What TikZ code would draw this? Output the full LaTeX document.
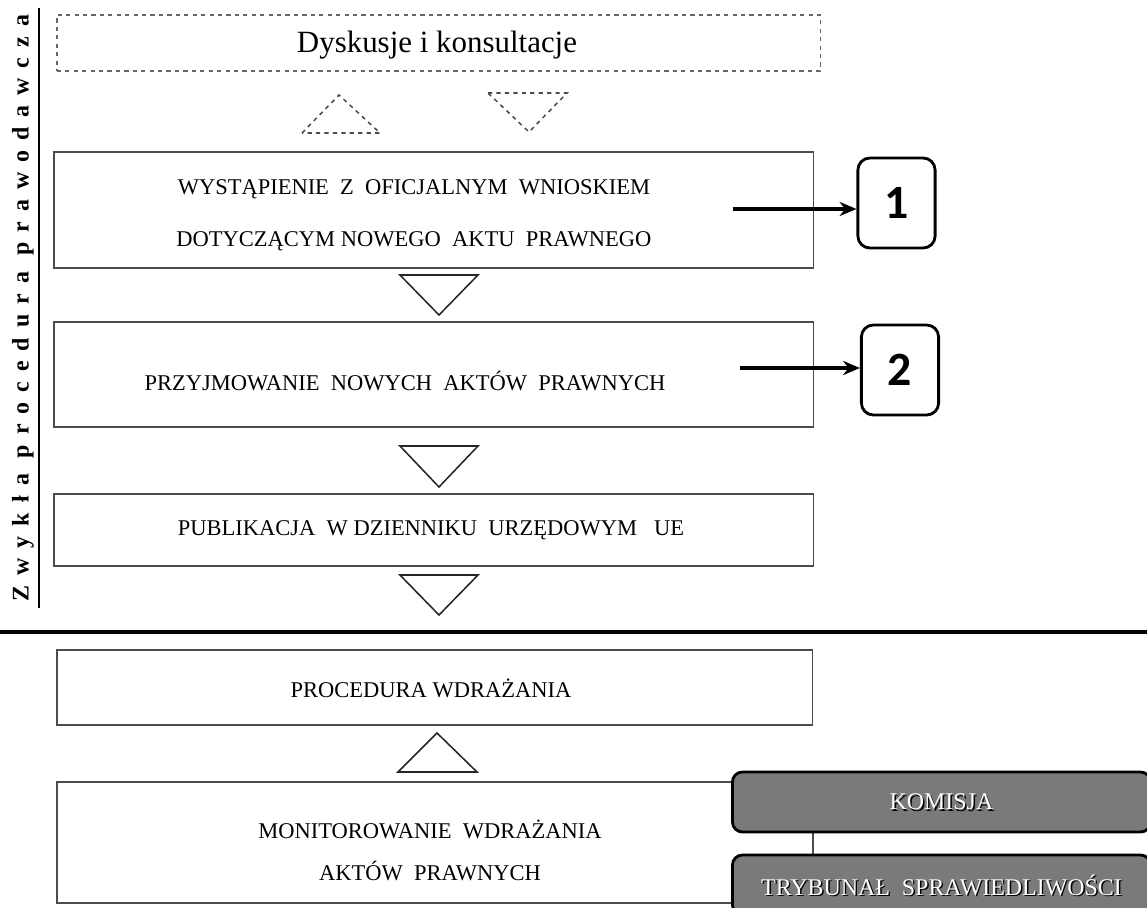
\documentclass[tikz,border=0pt]{standalone}
\usepackage{fontspec}
\setmainfont{Liberation Serif}
\newfontfamily\titlefont[LetterSpace=42]{Liberation Serif}
\newfontfamily\numfont{Carlito}
\usetikzlibrary{positioning, calc, arrows.meta}

\begin{document}
\begin{tikzpicture}[
    x=0.025cm, y=-0.025cm,
    box/.style={draw=black!70, line width=1pt, inner sep=0pt},
    dashbox/.style={draw=black!60, dashed, line width=1pt, inner sep=0pt},
    boxtext/.style={font=\fontsize{16}{37}\selectfont, align=center},
    tri/.style={draw=black!85, line width=1.1pt, line join=miter},
    numbox/.style={draw=black, line width=2pt, rounded corners=0.3cm, minimum width=1.93cm, minimum height=2.25cm, font=\numfont\bfseries\fontsize{34}{36}\selectfont},
    organ/.style={draw=black, line width=2pt, fill=black!52, rounded corners=0.25cm, minimum width=10.45cm, minimum height=1.5cm},
    organtext/.style={font=\fontsize{17}{20}\selectfont},
    pointer/.style={line width=2.5pt, -{Stealth[length=12pt, width=10pt]}}
]
   \clip (0,0) rectangle (1147,908);

   % side title
   \node[rotate=90, inner sep=0pt, font=\titlefont\bfseries\fontsize{17}{20}\selectfont] (title) at (23,308) {Zwykła procedura prawodawcza};
   \draw[line width=1.5pt, shorten <=-0.15cm, shorten >=-0.15cm] ([xshift=0.12cm]title.south west) -- ([xshift=0.12cm]title.south east);

   % legislative procedure
   \node[dashbox, minimum width=19.08cm, minimum height=1.4cm] (disc) at (438.5,43) {};
   \node[font=\fontsize{22}{26}\selectfont] (disctxt) at (437,45) {Dyskusje i konsultacje};

   \node[box, minimum width=18.98cm, minimum height=2.9cm] (b1) at (433.5,210) {};
   \node[boxtext] (t1) at (414,215) {WYSTĄPIENIE\ \ Z\ \ OFICJALNYM\ \ WNIOSKIEM\\DOTYCZĄCYM NOWEGO\ \ AKTU\ \ PRAWNEGO};

   \node[box, minimum width=18.98cm, minimum height=2.625cm] (b2) at (433.5,374.5) {};
   \node[boxtext] (t2) at (405,381) {PRZYJMOWANIE\ \ NOWYCH\ \ AKTÓW\ \ PRAWNYCH};

   \node[box, minimum width=18.98cm, minimum height=1.8cm] (b3) at (433.5,530) {};
   \node[boxtext] (t3) at (431,530) {PUBLIKACJA\ \ W DZIENNIKU\ \ URZĘDOWYM\ \ \ UE};

   \node[numbox] (n1) at (896.5,203) {1};
   \node[numbox] (n2) at (900,370) {2};
   \coordinate (a1) at (733,209);
   \coordinate (a2) at (740,368);
   \draw[pointer] (a1) -- (a1 -| n1.west);
   \draw[pointer] (a2) -- (a2 -| n2.west);

   % triangles
   \draw[tri, dashed, draw=black!70] (302,133) -- (339,95) -- (380,133) -- cycle;
   \draw[tri, dashed, draw=black!70] (488,93) -- (567,93) -- (529,132) -- cycle;
   \draw[tri] (400,275) -- (478,275) -- (439,315) -- cycle;
   \draw[tri] (400,446) -- (478,446) -- (439,487) -- cycle;
   \draw[tri] (400,575) -- (478,575) -- (439,615) -- cycle;

   \draw[line width=3pt] (0,632) -- (1147,632);

   % implementation
   \node[box, minimum width=18.88cm, minimum height=1.875cm] (b4) at (434.5,687.5) {};
   \node[boxtext] (t4) at (431,688) {PROCEDURA WDRAŻANIA};
   \draw[tri] (398,772) -- (477,772) -- (437,733) -- cycle;

   \node[box, minimum width=18.9cm, minimum height=3.025cm] (b5) at (435,842.5) {};
   \node[boxtext, font=\fontsize{16}{30}\selectfont] (t5) at (430,850) {MONITOROWANIE\ \ WDRAŻANIA\\AKTÓW\ \ PRAWNYCH};

   \node[organ] (kom) at (941.5,802) {};
   \node[organtext, text=black] (komsh) at ([shift={(1pt,-1pt)}]kom.center) {KOMISJA};
   \node[organtext, text=white] (komtxt) at (kom.center) {KOMISJA};
   \node[organ] (tsue) at (941.5,885) {};
   \node[organtext, text=black] (tsuesh) at ([shift={(1pt,-1pt)}]tsue.center) {TRYBUNAŁ\ \ SPRAWIEDLIWOŚCI};
   \node[organtext, text=white] (tsuetxt) at (tsue.center) {TRYBUNAŁ\ \ SPRAWIEDLIWOŚCI};
\end{tikzpicture}
\end{document}
